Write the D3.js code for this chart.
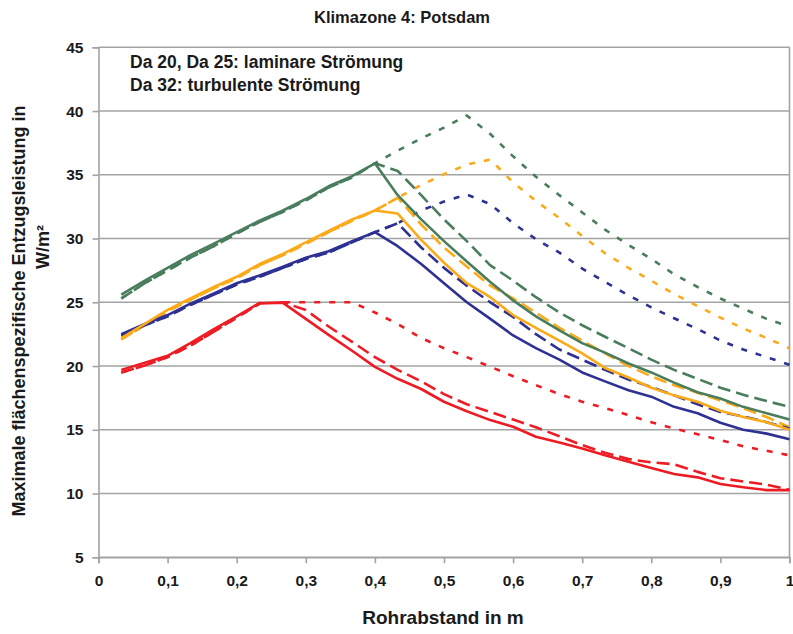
<!DOCTYPE html>
<html>
<head>
<meta charset="utf-8">
<script src="https://cdn.jsdelivr.net/npm/d3@7"></script>
<style>
  html, body { margin: 0; padding: 0; background: #ffffff; }
  svg { display: block; font-family: "Liberation Sans", Arial, sans-serif; }
</style>
</head>
<body>
<svg id="chart" width="793" height="634"></svg>
<script>
// Rohrabstand (m)
const rohrabstand = [0.033, 0.067, 0.1, 0.133, 0.167, 0.2, 0.233, 0.267, 0.3, 0.333,
  0.367, 0.4, 0.433, 0.467, 0.5, 0.533, 0.567, 0.6, 0.633, 0.667,
  0.7, 0.733, 0.767, 0.8, 0.833, 0.867, 0.9, 0.933, 0.967, 1.0];

// Entzugsleistung W/m² – Da 20 (durchgezogen), Da 25 (gestrichelt), Da 32 (gepunktet)
const rotDa20 = [19.7, 20.25, 20.8, 21.8, 22.9, 23.9, 24.95, 24.95, 23.7, 22.45, 21.2, 19.94, 19.0, 18.2, 17.2, 16.45, 15.76, 15.24, 14.45, 14.0, 13.54, 13.0, 12.5, 12.0, 11.53, 11.27, 10.75, 10.5, 10.27, 10.27];
const rotDa25 = [19.5, 20.05, 20.7, 21.6, 22.7, 23.8, 24.9, 25.0, 24.4, 23.1, 21.9, 20.7, 19.7, 18.8, 17.8, 17.0, 16.4, 15.8, 15.2, 14.5, 13.8, 13.2, 12.7, 12.45, 12.3, 11.7, 11.2, 10.95, 10.7, 10.3];
const rotDa32 = [19.5, 20.05, 20.7, 21.6, 22.7, 23.8, 24.9, 25.0, 25.0, 25.0, 25.0, 24.2, 23.3, 22.2, 21.4, 20.7, 19.95, 19.2, 18.5, 17.8, 17.2, 16.7, 16.15, 15.6, 15.1, 14.65, 14.2, 13.7, 13.35, 13.0];

const blauDa20 = [22.5, 23.3, 24.0, 24.9, 25.7, 26.5, 27.1, 27.8, 28.5, 29.0, 29.8, 30.5, 29.4, 28.0, 26.5, 25.0, 23.7, 22.4, 21.4, 20.5, 19.5, 18.8, 18.1, 17.6, 16.8, 16.3, 15.55, 15.0, 14.7, 14.25];
const blauDa25 = [22.4, 23.2, 23.9, 24.8, 25.6, 26.4, 27.0, 27.7, 28.4, 28.9, 29.7, 30.5, 31.2, 29.3, 27.7, 26.3, 25.0, 23.85, 22.5, 21.3, 20.5, 19.7, 18.95, 18.35, 17.7, 17.0, 16.4, 16.05, 15.6, 15.1];
const blauDa32 = [22.4, 23.2, 23.9, 24.8, 25.6, 26.4, 27.0, 27.7, 28.4, 28.9, 29.7, 30.5, 31.2, 32.2, 32.9, 33.45, 32.7, 31.2, 29.95, 28.9, 27.65, 26.6, 25.55, 24.6, 23.75, 22.9, 22.0, 21.3, 20.7, 20.1];

const orangeDa20 = [22.2, 23.3, 24.4, 25.3, 26.2, 27.0, 28.0, 28.8, 29.7, 30.6, 31.5, 32.2, 31.96, 29.9, 28.1, 26.5, 25.4, 24.0, 23.0, 22.0, 21.0, 19.85, 19.1, 18.3, 17.7, 17.2, 16.5, 16.0, 15.6, 15.0];
const orangeDa25 = [22.1, 23.2, 24.3, 25.2, 26.1, 26.9, 27.9, 28.7, 29.6, 30.5, 31.4, 32.2, 33.2, 31.1, 29.3, 27.8, 26.3, 25.3, 24.2, 23.0, 22.0, 21.0, 20.0, 19.2, 18.5, 17.9, 17.3, 16.7, 16.0, 15.2];
const orangeDa32 = [22.1, 23.2, 24.3, 25.2, 26.1, 26.9, 27.9, 28.7, 29.6, 30.5, 31.4, 32.2, 33.2, 34.2, 35.05, 35.8, 36.2, 34.4, 32.95, 31.6, 30.2, 28.85, 27.7, 26.7, 25.65, 24.7, 23.8, 22.95, 22.2, 21.4];

const gruenDa20 = [25.6, 26.7, 27.7, 28.7, 29.6, 30.5, 31.4, 32.2, 33.1, 34.1, 34.9, 35.9, 33.4, 31.5, 29.8, 28.2, 26.6, 25.15, 23.9, 22.8, 21.8, 21.05, 20.2, 19.5, 18.7, 17.95, 17.45, 16.8, 16.3, 15.8];
const gruenDa25 = [25.3, 26.5, 27.5, 28.5, 29.4, 30.4, 31.3, 32.1, 33.0, 34.0, 34.8, 35.9, 35.3, 33.4, 31.5, 29.8, 27.9, 26.7, 25.4, 24.2, 23.2, 22.3, 21.4, 20.5, 19.7, 19.0, 18.3, 17.75, 17.25, 16.8];
const gruenDa32 = [25.3, 26.5, 27.5, 28.5, 29.4, 30.4, 31.3, 32.1, 33.0, 34.0, 34.8, 35.9, 36.9, 37.85, 38.7, 39.65, 38.2, 36.45, 34.85, 33.4, 32.05, 30.7, 29.5, 28.4, 27.2, 26.2, 25.3, 24.5, 23.7, 23.1];

// Achsenbeschriftung
const xTicks = [0, 0.1, 0.2, 0.3, 0.4, 0.5, 0.6, 0.7, 0.8, 0.9, 1];
const yTicks = [5, 10, 15, 20, 25, 30, 35, 40, 45];

const titel = "Klimazone 4: Potsdam";
const hinweis = ["Da 20, Da 25: laminare Strömung", "Da 32: turbulente Strömung"];
const xTitel = "Rohrabstand in m";
const yTitel = ["Maximale flächenspezifische Entzugsleistung in", "W/m²"];

const farben = { rot: "#ed1c24", blau: "#2e3192", orange: "#fbaa19", gruen: "#4a7d5c" };
const striche = { da20: null, da25: "13,6", da32: "6,9" };

// draw order: dotted first, then dashed, solid on top
const reihen = [
  { werte: gruenDa32, farbe: farben.gruen, art: "da32" },
  { werte: orangeDa32, farbe: farben.orange, art: "da32" },
  { werte: blauDa32, farbe: farben.blau, art: "da32" },
  { werte: rotDa32, farbe: farben.rot, art: "da32" },
  { werte: gruenDa25, farbe: farben.gruen, art: "da25" },
  { werte: orangeDa25, farbe: farben.orange, art: "da25" },
  { werte: blauDa25, farbe: farben.blau, art: "da25" },
  { werte: rotDa25, farbe: farben.rot, art: "da25" },
  { werte: blauDa20, farbe: farben.blau, art: "da20" },
  { werte: orangeDa20, farbe: farben.orange, art: "da20" },
  { werte: gruenDa20, farbe: farben.gruen, art: "da20" },
  { werte: rotDa20, farbe: farben.rot, art: "da20" }
];

const svg = d3.select("#chart");
svg.append("rect").attr("width", 793).attr("height", 634).attr("fill", "#fff");

const plot = { left: 98.5, right: 789.5, top: 47.3, bottom: 557.3 };
const x = d3.scaleLinear().domain([0, 1]).range([plot.left, plot.right]);
const y = d3.scaleLinear().domain([5, 45]).range([plot.bottom, plot.top]);

const grau = "#a3a3a3";
const schrift = "'Liberation Sans', Arial, sans-serif";
const textFarbe = "#1a1a1a";

// horizontal gridlines
svg.append("g")
  .selectAll("line")
  .data(yTicks)
  .join("line")
  .attr("x1", plot.left).attr("x2", plot.right)
  .attr("y1", d => y(d)).attr("y2", d => y(d))
  .attr("stroke", grau).attr("stroke-width", 1.6);

// right border
svg.append("line")
  .attr("x1", plot.right).attr("x2", plot.right)
  .attr("y1", plot.top).attr("y2", plot.bottom)
  .attr("stroke", grau).attr("stroke-width", 1.6);

const fmt = d => String(d).replace(".", ",");

// y axis
const yAxis = svg.append("g")
  .attr("transform", `translate(${plot.left},0)`)
  .call(d3.axisLeft(y).tickValues(yTicks).tickSize(6).tickPadding(9).tickFormat(d => d));
yAxis.select(".domain").attr("stroke", grau).attr("stroke-width", 1.6);
yAxis.selectAll(".tick line").attr("stroke", grau).attr("stroke-width", 1.6);
yAxis.selectAll(".tick text")
  .attr("fill", textFarbe).attr("font-size", 15.5).attr("font-weight", "bold")
  .attr("font-family", schrift);

// x axis
const xAxis = svg.append("g")
  .attr("transform", `translate(0,${plot.bottom})`)
  .call(d3.axisBottom(x).tickValues(xTicks).tickSize(6).tickPadding(12).tickFormat(fmt));
xAxis.select(".domain").attr("stroke", grau).attr("stroke-width", 1.6);
xAxis.selectAll(".tick line").attr("stroke", grau).attr("stroke-width", 1.6);
xAxis.selectAll(".tick text")
  .attr("fill", textFarbe).attr("font-size", 15.5).attr("font-weight", "bold")
  .attr("font-family", schrift);

// series
const linie = d3.line()
  .x((d, i) => x(rohrabstand[i]))
  .y(d => y(d));

svg.append("g")
  .selectAll("path")
  .data(reihen)
  .join("path")
  .attr("d", r => linie(r.werte))
  .attr("fill", "none")
  .attr("stroke", r => r.farbe)
  .attr("stroke-width", 2.6)
  .attr("stroke-linejoin", "round")
  .attr("stroke-dasharray", r => striche[r.art]);

// texts
svg.append("text")
  .attr("x", 402).attr("y", 23)
  .attr("text-anchor", "middle")
  .attr("font-size", 16.5).attr("font-weight", "bold").attr("fill", textFarbe)
  .text(titel);

svg.append("g")
  .selectAll("text")
  .data(hinweis)
  .join("text")
  .attr("x", 130).attr("y", (d, i) => 68 + i * 23)
  .attr("font-size", 17.5).attr("font-weight", "bold").attr("fill", textFarbe)
  .text(d => d);

svg.append("text")
  .attr("x", 443).attr("y", 624)
  .attr("text-anchor", "middle")
  .attr("font-size", 19).attr("font-weight", "bold").attr("fill", textFarbe)
  .text(xTitel);

svg.append("text")
  .attr("transform", "translate(25,311) rotate(-90)")
  .attr("text-anchor", "middle")
  .attr("font-size", 18).attr("font-weight", "bold").attr("fill", textFarbe)
  .text(yTitel[0]);

svg.append("text")
  .attr("transform", "translate(49,247) rotate(-90)")
  .attr("text-anchor", "middle")
  .attr("font-size", 18).attr("font-weight", "bold").attr("fill", textFarbe)
  .text(yTitel[1]);
</script>
</body>
</html>
